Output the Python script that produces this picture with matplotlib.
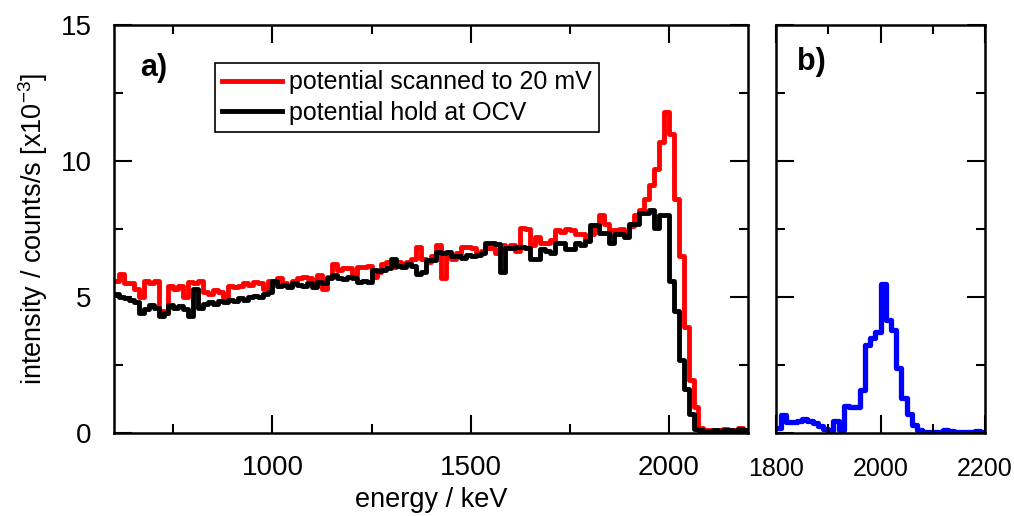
import numpy as np
import matplotlib.pyplot as plt
from matplotlib.ticker import MultipleLocator

plt.rcParams['font.family'] = ['Liberation Sans', 'DejaVu Sans']

# panel a: spectra, 12.5 keV bins starting at 600 keV
start_a = 600
bin_a = 12.5
scanned_20mV = [
    5.6, 5.85, 5.5, 5.5, 5.3, 5.0, 5.6, 5.5, 5.6, 4.5,
    4.4, 5.4, 5.3, 5.4, 5.0, 5.55, 5.5, 5.6, 5.2, 5.1,
    5.25, 5.2, 5.0, 5.4, 5.35, 5.4, 5.5, 5.45, 5.55, 5.5,
    5.3, 5.6, 5.55, 5.7, 5.5, 5.45, 5.6, 5.7, 5.75, 5.7,
    5.6, 5.8, 5.3, 5.75, 6.2, 6.0, 6.05, 6.05, 5.8, 6.1,
    6.1, 6.15, 5.75, 5.9, 6.2, 6.3, 6.1, 6.3, 6.2, 6.3,
    6.4, 6.85, 6.4, 6.3, 6.5, 6.9, 5.7, 6.5, 6.4, 6.6,
    6.85, 6.85, 6.8, 6.6, 6.7, 6.8, 6.8, 6.6, 6.9, 6.8,
    6.9, 6.7, 7.55, 7.5, 6.9, 7.2, 7.0, 7.0, 7.1, 7.45,
    7.4, 7.5, 7.45, 7.3, 7.3, 7.1, 7.3, 7.5, 8.0, 7.7,
    7.45, 7.45, 7.5, 7.4, 7.6, 8.0, 8.2, 8.6, 9.1, 9.7,
    10.7, 11.8, 11.0, 8.6, 6.5, 3.9, 1.95, 0.95, 0.2, 0.1,
    0.12, 0.08, 0.1, 0.15, 0.1, 0.12, 0.18, 0.1,
]
hold_ocv = [
    5.1, 5.0, 4.95, 4.9, 4.8, 4.4, 4.55, 4.7, 4.6, 4.3,
    4.4, 4.7, 4.6, 4.65, 4.55, 4.3, 5.3, 4.6, 4.75, 4.8,
    4.75, 4.85, 4.8, 4.9, 4.85, 4.95, 4.9, 5.0, 5.05, 5.0,
    5.1, 5.2, 5.6, 5.4, 5.45, 5.35, 5.5, 5.45, 5.4, 5.5,
    5.35, 5.55, 5.5, 5.7, 5.8, 5.7, 5.65, 5.75, 5.7, 5.55,
    5.6, 5.55, 6.0, 5.95, 6.0, 6.05, 6.4, 6.15, 6.1, 6.2,
    6.15, 5.85, 5.9, 6.35, 6.35, 6.65, 6.6, 6.65, 6.5, 6.5,
    6.45, 6.55, 6.5, 6.55, 6.6, 7.0, 7.0, 6.95, 5.9, 6.8,
    6.8, 6.85, 6.85, 6.8, 6.4, 6.4, 6.75, 6.7, 6.6, 7.0,
    7.0, 6.75, 6.75, 7.0, 6.9, 7.05, 7.65, 7.65, 7.35, 7.35,
    7.0, 7.3, 7.3, 7.2, 7.7, 7.7, 8.1, 8.1, 8.2, 7.55,
    8.0, 8.0, 5.6, 4.5, 2.7, 1.6, 0.7, 0.15, 0.1, 0.05,
    0.08, 0.1, 0.05, 0.12, 0.1, 0.08, 0.15, 0.1,
]

# panel b: 10 keV bins starting at 1800 keV
start_b = 1800
bin_b = 10
spectrum_b = [
    0.2, 0.65, 0.4, 0.4, 0.45, 0.5, 0.45, 0.35, 0.25, 0.15,
    0.05, 0.45, 0.1, 1.0, 0.95, 0.95, 1.58, 3.24, 3.48, 3.73,
    5.47, 4.17, 3.8, 2.4, 1.3, 0.7, 0.3, 0.1, 0.05, 0.05,
    0.03, 0.05, 0.1, 0.08, 0.03, 0.02, 0.02, 0.05, 0.08, 0.02,
]

edges_a = start_a + bin_a * np.arange(len(scanned_20mV) + 1)
edges_b = start_b + bin_b * np.arange(len(spectrum_b) + 1)

fig = plt.figure(figsize=(10.14, 5.16), dpi=100)
ax1 = fig.add_axes([0.1124, 0.1609, 0.6253, 0.7907])
ax2 = fig.add_axes([0.7653, 0.1609, 0.2061, 0.7907])

ax1.stairs(scanned_20mV, edges_a, baseline=None, color='#ff0000', lw=3.5,
           joinstyle='round', label='potential scanned to 20 mV')
ax1.stairs(hold_ocv, edges_a, baseline=None, color='black', lw=3.5,
           joinstyle='round', label='potential hold at OCV')
ax2.stairs(spectrum_b, edges_b, baseline=None, color='#0000ff', lw=3.8,
           joinstyle='round')

ax1.set_xlim(600, 2200)
ax2.set_xlim(1800, 2200)
for ax in (ax1, ax2):
    ax.set_ylim(0, 15)
    ax.yaxis.set_major_locator(MultipleLocator(5))
    ax.yaxis.set_minor_locator(MultipleLocator(2.5))
    ax.tick_params(which='both', direction='in', top=True, right=True, width=1.5)
    ax.tick_params(which='major', length=13)
    ax.tick_params(which='minor', length=6.5)
    for s in ax.spines.values():
        s.set_linewidth(1.8)

ax1.set_xticks([1000, 1500, 2000])
ax1.set_xticks([750, 1250, 1750], minor=True)
ax1.tick_params(which='major', labelsize=20, pad=16)
ax2.set_xticks([1800, 2000, 2200])
ax2.set_xticks([1900, 2100], minor=True)
ax2.tick_params(which='major', labelsize=18, pad=17, labelleft=False)

ax1.set_xlabel('energy / keV', fontsize=19.5, labelpad=4)
ax1.set_ylabel('intensity / counts/s [x10$^{\\mathregular{-3}}$]', fontsize=19.5, labelpad=8)

ax1.text(0.041, 0.895, 'a)', transform=ax1.transAxes, fontsize=22,
         fontweight='bold', va='center')
ax2.text(0.1, 0.91, 'b)', transform=ax2.transAxes, fontsize=22,
         fontweight='bold', va='center')

leg = ax1.legend(loc='upper left', bbox_to_anchor=(0.159, 0.907), fontsize=18,
                 fancybox=False, edgecolor='black', framealpha=1,
                 handlelength=2.4, handletextpad=0.25, labelspacing=0.25,
                 borderpad=0.3, borderaxespad=0)
leg.get_frame().set_linewidth(1.2)

fig.savefig('out.png', dpi=100)
